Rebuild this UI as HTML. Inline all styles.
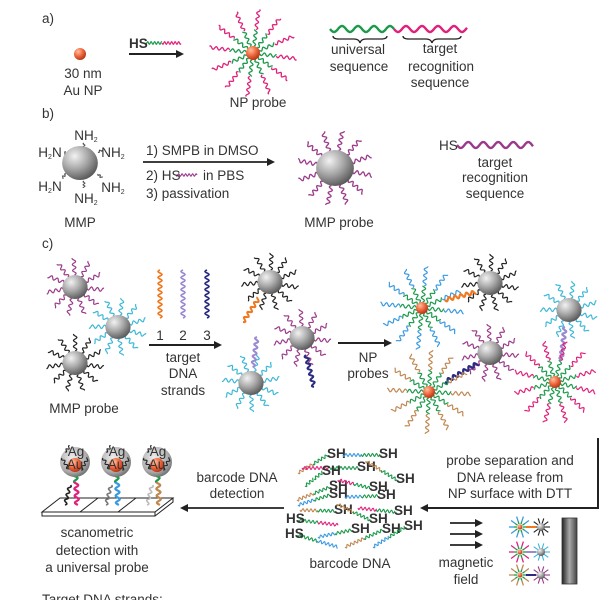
<!DOCTYPE html>
<html><head><meta charset="utf-8"><style>
html,body{margin:0;padding:0;background:#fff;width:614px;height:600px;overflow:hidden}
svg{display:block}
text{font-family:"Liberation Sans",Arial,sans-serif;fill:#333;font-size:13.5px}
</style></head><body>
<svg id="s" width="614" height="600" viewBox="0 0 614 600" xmlns="http://www.w3.org/2000/svg">
<defs>
<radialGradient id="gs" cx="35%" cy="30%" r="75%"><stop offset="0" stop-color="#f2f2f2"/><stop offset="0.5" stop-color="#a8a8a8"/><stop offset="1" stop-color="#555"/></radialGradient>
<radialGradient id="gr" cx="35%" cy="30%" r="75%"><stop offset="0" stop-color="#ffc0a0"/><stop offset="0.5" stop-color="#f06a40"/><stop offset="1" stop-color="#b03010"/></radialGradient>
<radialGradient id="gag" cx="40%" cy="35%" r="70%"><stop offset="0" stop-color="#eee"/><stop offset="0.7" stop-color="#aaa"/><stop offset="1" stop-color="#666"/></radialGradient>
<linearGradient id="gm" x1="0" x2="1"><stop offset="0" stop-color="#222"/><stop offset="0.5" stop-color="#aaa"/><stop offset="1" stop-color="#444"/></linearGradient>
<marker id="ah" markerWidth="8" markerHeight="8" refX="6" refY="4" orient="auto" markerUnits="userSpaceOnUse"><path d="M0,0 L8,4 L0,8 z" fill="#222"/></marker>
</defs>
<g id="g"></g>
<g id="t">
<text x="42" y="23">a)</text>
<text x="83" y="78" text-anchor="middle">30 nm</text>
<text x="83" y="95" text-anchor="middle">Au NP</text>
<text x="129" y="48" font-size="12" font-weight="bold">HS</text>
<text x="258" y="107" text-anchor="middle">NP probe</text>
<text x="358" y="54" text-anchor="middle">universal</text>
<text x="359" y="71" text-anchor="middle">sequence</text>
<text x="440" y="53" text-anchor="middle">target</text>
<text x="441" y="71" text-anchor="middle">recognition</text>
<text x="440" y="87" text-anchor="middle">sequence</text>
<text x="42" y="118">b)</text>
<text x="86" y="140" font-size="9.5" text-anchor="middle">NH<tspan font-size="7" dy="2">2</tspan></text>
<text x="50" y="157" font-size="9.5" text-anchor="middle">H<tspan font-size="7" dy="2">2</tspan><tspan dy="-2">N</tspan></text>
<text x="113" y="157" font-size="9.5" text-anchor="middle">NH<tspan font-size="7" dy="2">2</tspan></text>
<text x="50" y="191" font-size="9.5" text-anchor="middle">H<tspan font-size="7" dy="2">2</tspan><tspan dy="-2">N</tspan></text>
<text x="113" y="192" font-size="9.5" text-anchor="middle">NH<tspan font-size="7" dy="2">2</tspan></text>
<text x="86" y="203" font-size="9.5" text-anchor="middle">NH<tspan font-size="7" dy="2">2</tspan></text>
<text x="80" y="227" text-anchor="middle">MMP</text>
<text x="146" y="155">1) SMPB in DMSO</text>
<text x="146" y="180">2) HS</text>
<text x="203" y="180">in PBS</text>
<text x="146" y="198">3) passivation</text>
<text x="339" y="227" text-anchor="middle">MMP probe</text>
<text x="439" y="150">HS</text>
<text x="495" y="167" text-anchor="middle">target</text>
<text x="495" y="182" text-anchor="middle">recognition</text>
<text x="495" y="198" text-anchor="middle">sequence</text>
<text x="42" y="248">c)</text>
<text x="84" y="413" text-anchor="middle">MMP probe</text>
<text x="160" y="340" text-anchor="middle">1</text>
<text x="183" y="340" text-anchor="middle">2</text>
<text x="207" y="340" text-anchor="middle">3</text>
<text x="183" y="362" text-anchor="middle">target</text>
<text x="183" y="378" text-anchor="middle">DNA</text>
<text x="183" y="395" text-anchor="middle">strands</text>
<text x="368" y="362" text-anchor="middle">NP</text>
<text x="368" y="378" text-anchor="middle">probes</text>
<text x="510" y="465" text-anchor="middle">probe separation and</text>
<text x="510" y="482" text-anchor="middle">DNA  release from</text>
<text x="510" y="498" text-anchor="middle">NP surface with DTT</text>
<text x="237" y="482" text-anchor="middle">barcode DNA</text>
<text x="237" y="498" text-anchor="middle">detection</text>
<text x="350" y="568" text-anchor="middle">barcode DNA</text>
<text x="466" y="567" text-anchor="middle">magnetic</text>
<text x="466" y="584" text-anchor="middle">field</text>
<text x="97" y="537" text-anchor="middle">scanometric</text>
<text x="97" y="555" text-anchor="middle">detection with</text>
<text x="97" y="572" text-anchor="middle">a universal probe</text>
<text x="42" y="604" font-size="11">Target DNA strands:</text>
</g>
</svg>
<script>
var G=document.getElementById('g'),NS='http://www.w3.org/2000/svg';
function el(n,a){var e=document.createElementNS(NS,n);for(var k in a)e.setAttribute(k,a[k]);G.appendChild(e);return e;}
function wave(x1,y1,x2,y2,c,amp,per,w){amp=amp||1.6;per=per||4;w=w||1.3;var dx=x2-x1,dy=y2-y1,L=Math.hypot(dx,dy);if(L<0.5)return;var ux=dx/L,uy=dy/L,nx=-uy,ny=ux,d='',N=Math.max(6,Math.round(L*2));for(var i=0;i<=N;i++){var s=L*i/N,o=amp*Math.sin(s/per*2*Math.PI);d+=(i?'L':'M')+(x1+ux*s+nx*o).toFixed(2)+','+(y1+uy*s+ny*o).toFixed(2);}el('path',{d:d,fill:'none',stroke:c,'stroke-width':w});}
function star(cx,cy,r,len,n,c1,c2,frac,amp,per,w,off){off=off||0;for(var i=0;i<n;i++){var a=off+i*2*Math.PI/n,ca=Math.cos(a),sa=Math.sin(a);if(c2){var m=r+len*frac;wave(cx+ca*r,cy+sa*r,cx+ca*m,cy+sa*m,c1,amp,per,w);wave(cx+ca*m,cy+sa*m,cx+ca*(r+len),cy+sa*(r+len),c2,amp,per,w);}else wave(cx+ca*r,cy+sa*r,cx+ca*(r+len),cy+sa*(r+len),c1,amp,per,w);}}
function sph(cx,cy,r){el('ellipse',{cx:cx,cy:cy,rx:r*1.05,ry:r,fill:'url(#gs)'});}
function au(cx,cy,r){el('circle',{cx:cx,cy:cy,r:r,fill:'url(#gr)'});}
function arrow(x1,y1,x2,y2,w){el('line',{x1:x1,y1:y1,x2:x2,y2:y2,stroke:'#222','stroke-width':w||2,'marker-end':'url(#ah)'});}
var GR='#1a9a4a',PK='#e0207a',PU='#9b3a8a',CY='#3cb8d8',BK='#222',OR='#f07820',LV='#9a8ad0',NV='#2a2a80',BL='#3a9ae0',BR='#c08850';
// a)
au(80,54,6);
arrow(129,54,182,54,2);
wave(145,43,162,43,GR,1.3,3.5,1.2);wave(162,43,181,43,PK,1.3,3.5,1.2);
star(253,53,7,37,12,GR,PK,0.45,1.5,6,1.3,0.13);au(253,53,7);
wave(330,29,394,29,GR,3,16,2.4);wave(394,29,467,29,PK,3,16,2.4);
el('path',{d:'M333,36 q0,3 6,3 h15 q5,0 6,4 q1,-4 6,-4 h15 q6,0 6,-3',fill:'none',stroke:'#222','stroke-width':1.3});
el('path',{d:'M403,36 q0,3 6,3 h17 q5,0 6,4 q1,-4 6,-4 h17 q6,0 6,-3',fill:'none',stroke:'#222','stroke-width':1.3});
// b)
wave(84,143,84,147,'#444',1,3,1);wave(66,152,64,154,'#444',1,3,1);wave(98,152,102,150,'#444',1,3,1);wave(66,174,62,178,'#444',1,3,1);wave(98,174,102,178,'#444',1,3,1);wave(84,181,84,188,'#444',1,3,1);
sph(80,163,17);
arrow(143,162,273,162,1.8);
wave(176,175,197,175,PU,1.2,3.5,1.1);
star(335,168,18,20,12,PU,null,0,1.8,6,1.3,0.2);sph(335,168,18);
wave(457,145,533,145,PU,3,15,2.4);
// c)
var A=1.7,P=6;
star(75,287,12,17,11,PU,null,0,A,P,1.2,0.1);sph(75,287,12);
star(118,327,12,17,11,CY,null,0,A,P,1.2,0.3);sph(118,327,12);
star(75,363,12,17,11,BK,null,0,A,P,1.2,0.15);sph(75,363,12);
wave(160,270,160,318,OR,2,6,1.6);wave(183,270,183,318,LV,2,6,1.6);wave(207,270,207,318,NV,2,6,1.6);
arrow(149,345,220,345,2);
star(270,282,12,17,11,BK,null,0,A,P,1.2,0.2);sph(270,282,12);wave(243,322,259,298,OR,1.8,6,2);
star(302,338,12,17,11,PU,null,0,A,P,1.2,0.1);sph(302,338,12);wave(306,355,314,387,NV,1.8,6,2);
star(251,383,12,17,11,CY,null,0,A,P,1.2,0.4);sph(251,383,12);wave(257,337,253,367,LV,1.8,6,2);
arrow(338,343,390,343,2);
star(422,308,6,36,12,GR,BL,0.45,A,P,1.2,0.1);au(422,308,6);
star(490,283,12,17,11,BK,null,0,A,P,1.2,0.2);sph(490,283,12);wave(445,300,476,292,OR,1.8,6,2.2);
star(569,310,12,17,11,CY,null,0,A,P,1.2,0.3);sph(569,310,12);wave(565,327,561,360,LV,1.8,6,2.2);
star(555,382,6,36,12,GR,PK,0.45,A,P,1.2,0.25);au(555,382,6);
star(490,353,12,17,11,PU,null,0,A,P,1.2,0.1);sph(490,353,12);wave(445,382,478,363,NV,1.8,6,2.2);
star(429,392,6,36,12,GR,BR,0.45,A,P,1.2,0.05);au(429,392,6);
// separation path
el('path',{d:'M598,438 V508 H422',fill:'none',stroke:'#222','stroke-width':2,'marker-end':'url(#ah)'});
arrow(284,508,182,508,1.8);
// barcode DNA
function bc(x1,y1,x2,y2,c,sh,hs){var mx=(x1+x2)/2,my=(y1+y2)/2;if(hs){wave(x1,y1,mx,my,GR,1.4,4,1.1);wave(mx,my,x2,y2,c,1.4,4,1.1);el('text',{x:x1-12,y:y1+3,'font-size':'7.5','font-weight':'bold',fill:'#222'}).textContent='HS';}else{wave(x1,y1,mx,my,c,1.4,4,1.1);wave(mx,my,x2,y2,GR,1.4,4,1.1);var t=el('text',{x:x2-1,y:y2+3,'font-size':'7.5','font-weight':'bold',fill:'#222'});t.textContent='SH';}}
bc(298,473,328,455,BR);bc(343,455,380,455,BL);bc(302,468,358,468,PK);bc(366,461,397,480,BR);
bc(305,486,323,472,GR);bc(297,500,330,487,BR);bc(338,480,370,488,PK);bc(298,505,330,495,BL);
bc(345,497,378,496,BL);bc(300,510,335,511,BR);bc(337,504,370,520,BR);bc(358,508,395,512,PK);
bc(298,520,338,525,PK,0,1);bc(297,535,338,547,BL,0,1);bc(318,537,352,530,BL);bc(345,547,383,530,BR);bc(373,547,405,527,BL);
// magnetic arrows
arrow(450,523,481,523,1.8);arrow(450,534,481,534,1.8);arrow(450,545,481,545,1.8);
var mini=[[527,BL,BK,OR],[552,PK,CY,LV],[575,BR,PU,NV]];
mini.forEach(function(m){var y=m[0];for(var i=0;i<10;i++){var a=i*Math.PI/5,ca=Math.cos(a),sa=Math.sin(a);el('line',{x1:520+ca*3,y1:y+sa*3,x2:520+ca*6,y2:y+sa*6,stroke:GR,'stroke-width':1.3});el('line',{x1:520+ca*6,y1:y+sa*6,x2:520+ca*11,y2:y+sa*11,stroke:m[1],'stroke-width':1.3});el('line',{x1:541+ca*3,y1:y+sa*3,x2:541+ca*9,y2:y+sa*9,stroke:m[2],'stroke-width':1.1});}
el('circle',{cx:520,cy:y,r:2.5,fill:'url(#gr)'});el('line',{x1:526,y1:y,x2:536,y2:y,stroke:m[3],'stroke-width':2});el('circle',{cx:541,cy:y,r:4,fill:'url(#gs)'});});
el('rect',{x:562,y:518,width:15,height:66,fill:'url(#gm)',stroke:'#333','stroke-width':0.8});
// chip
el('path',{d:'M42,512 L60,498 L173,498 L155,512 Z',fill:'#fff',stroke:'#222','stroke-width':1});
el('path',{d:'M42,512 L42,516 L155,516 L155,512 M155,516 L173,502 L173,498',fill:'none',stroke:'#222','stroke-width':1});
el('line',{x1:80,y1:512,x2:98,y2:498,stroke:'#222','stroke-width':1});el('line',{x1:118,y1:512,x2:136,y2:498,stroke:'#222','stroke-width':1});
[[75,PK,BK],[116,BL,'#777'],[157,BR,'#bbb']].forEach(function(p){var x=p[0];
wave(x-10,505,x-5,485,p[2],1.5,6,1.6);
wave(x+1,480,x+2,505,p[1],2,7,2.2);wave(x,473,x+1,482,GR,2,7,2.2);
el('circle',{cx:x,cy:462,r:15,fill:'url(#gag)'});
wave(x-13,458,x-6,470,BK,1.3,5,1.1);wave(x+6,470,x+13,458,BK,1.3,5,1.1);wave(x-10,452,x-5,446,BK,1.2,4,1);
el('circle',{cx:x,cy:465,r:7,fill:'url(#gr)'});
var t=el('text',{x:x+1,y:456,'font-size':'9','text-anchor':'middle',fill:'#222'});t.textContent='Ag';
t=el('text',{x:x,y:469,'font-size':'9','text-anchor':'middle',fill:'#222'});t.textContent='Au';});
</script>
</body></html>
